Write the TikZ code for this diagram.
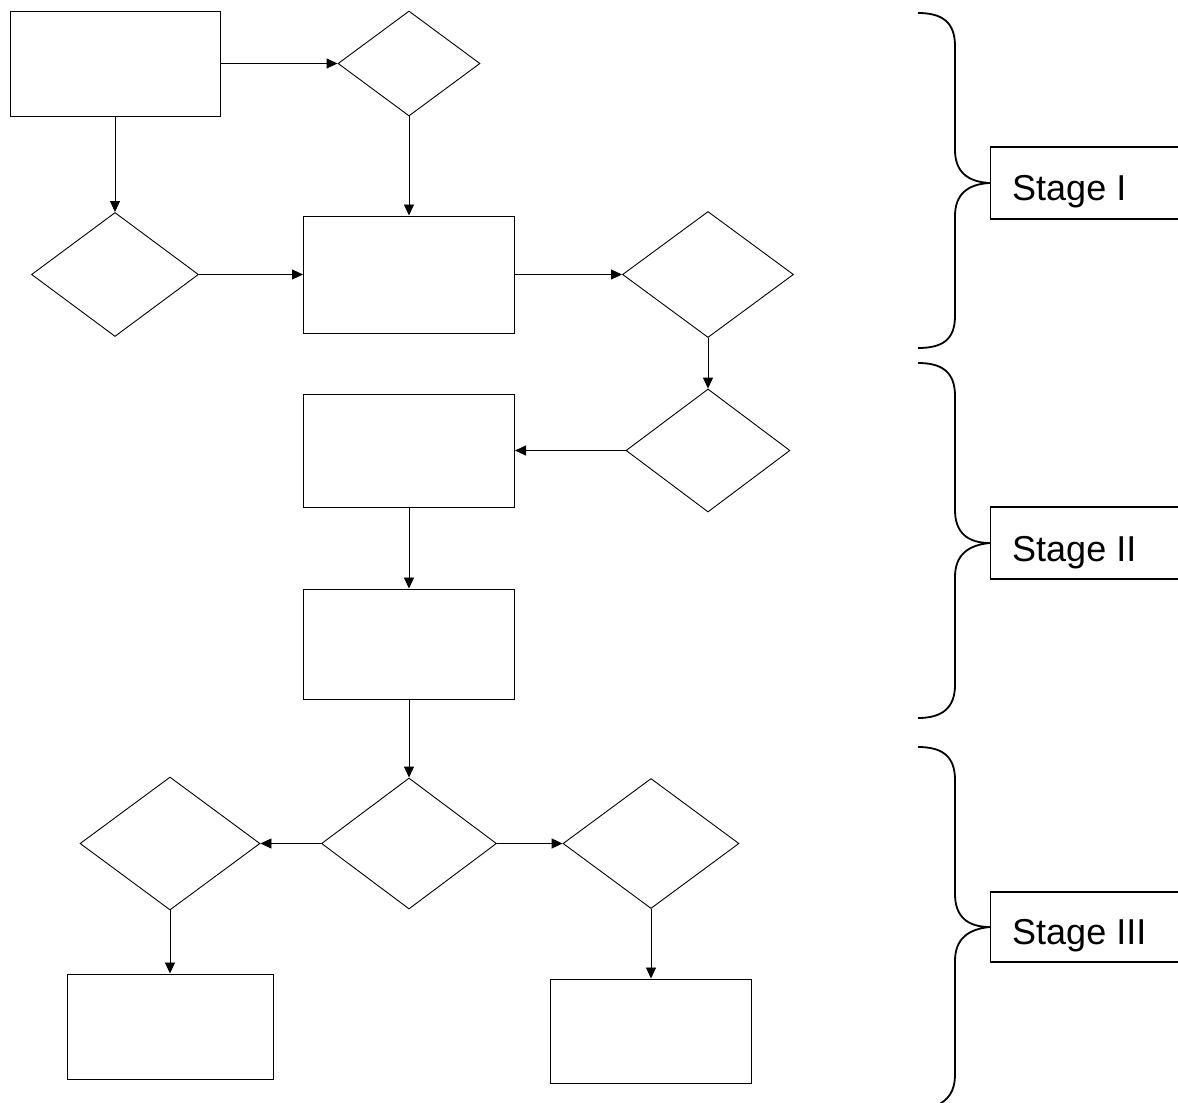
\documentclass[tikz,border=0pt]{standalone}
\usepackage{fontspec}
\setmainfont{Liberation Sans}
\usetikzlibrary{shapes.geometric,arrows.meta}
\begin{document}
\begin{tikzpicture}[x=1pt,y=-1pt,
  box/.style={draw=black, line width=1pt, rectangle, inner sep=0pt, minimum width=#1},
  dia/.style={draw=black, line width=0.9pt, diamond, inner sep=0pt},
  conn/.style={draw=black, line width=0.9pt, -{Triangle[length=11pt,width=10pt]}},
  brace/.style={draw=black, line width=1.8pt},
  stagebox/.style={draw=black, line width=1.3pt, rectangle, inner sep=0pt, minimum width=260pt, anchor=west},
  stagetext/.style={anchor=base west, inner sep=0pt, font=\fontsize{36}{40}\selectfont}
]
\useasboundingbox (0,0) rectangle (1178,1103);
\clip (0,0) rectangle (1178,1103);
\fill[white] (0,0) rectangle (1178,1103);

% flow nodes
\node[box=210pt, minimum height=105pt] (A) at (115,63.5) {};
\node[dia, minimum width=142pt, minimum height=105pt] (B) at (409,63.5) {};
\node[dia, minimum width=167pt, minimum height=124pt] (C) at (115,274.5) {};
\node[box=211pt, minimum height=117pt] (D) at (409,274.5) {};
\node[dia, minimum width=171pt, minimum height=126pt] (E) at (708,274.5) {};
\node[dia, minimum width=164pt, minimum height=123pt] (F) at (708,450.5) {};
\node[box=211pt, minimum height=113pt] (G) at (409,450.5) {};
\node[box=211pt, minimum height=110pt] (H) at (409,644) {};
\node[dia, minimum width=175pt, minimum height=131pt] (I) at (409,843.5) {};
\node[dia, minimum width=180pt, minimum height=133pt] (J) at (170,843.5) {};
\node[dia, minimum width=176pt, minimum height=130pt] (K) at (651,843.5) {};
\node[box=206pt, minimum height=105pt] (L) at (170,1026.5) {};
\node[box=201pt, minimum height=104pt] (M) at (651,1031) {};

% connectors
\draw[conn] (A.east) -- (B.west);
\draw[conn] (A.south) -- (C.north);
\draw[conn] (B.south) -- (D.north);
\draw[conn] (C.east) -- (D.west);
\draw[conn] (D.east) -- (E.west);
\draw[conn] (E.south) -- (F.north);
\draw[conn] (F.west) -- (G.east);
\draw[conn] (G.south) -- (H.north);
\draw[conn] (H.south) -- (I.north);
\draw[conn] (I.west) -- (J.east);
\draw[conn] (I.east) -- (K.west);
\draw[conn] (J.south) -- (L.north);
\draw[conn] (K.south) -- (M.north);

% stage boxes
\node[stagebox, minimum height=72pt] (S1) at (990,183) {};
\node[stagebox, minimum height=72pt] (S2) at (990,543) {};
\node[stagebox, minimum height=70pt] (S3) at (990,927) {};
\node[stagetext] (T1) at (1012,200) {Stage I};
\node[stagetext] (T2) at (1012,561) {Stage II};
\node[stagetext] (T3) at (1012,944) {Stage III};

% braces
\draw[brace] (918,13) .. controls (942,13) and (955,22) .. (955,46)
  -- (955,150) .. controls (955,172) and (968,182) .. (S1.west)
  .. controls (968,184) and (955,194) .. (955,216)
  -- (955,316) .. controls (955,340) and (942,348) .. (918,348);
\draw[brace] (918,363) .. controls (942,363) and (955,372) .. (955,396)
  -- (955,510) .. controls (955,533) and (968,543) .. (S2.west)
  .. controls (968,545) and (955,555) .. (955,577)
  -- (955,685) .. controls (955,708) and (942,718) .. (918,718);
\draw[brace] (918,747) .. controls (942,747) and (955,756) .. (955,780)
  -- (955,894) .. controls (955,917) and (968,927) .. (S3.west)
  .. controls (968,929) and (955,939) .. (955,961)
  -- (955,1074) .. controls (955,1092) and (948,1100) .. (936,1106);
\end{tikzpicture}
\end{document}
